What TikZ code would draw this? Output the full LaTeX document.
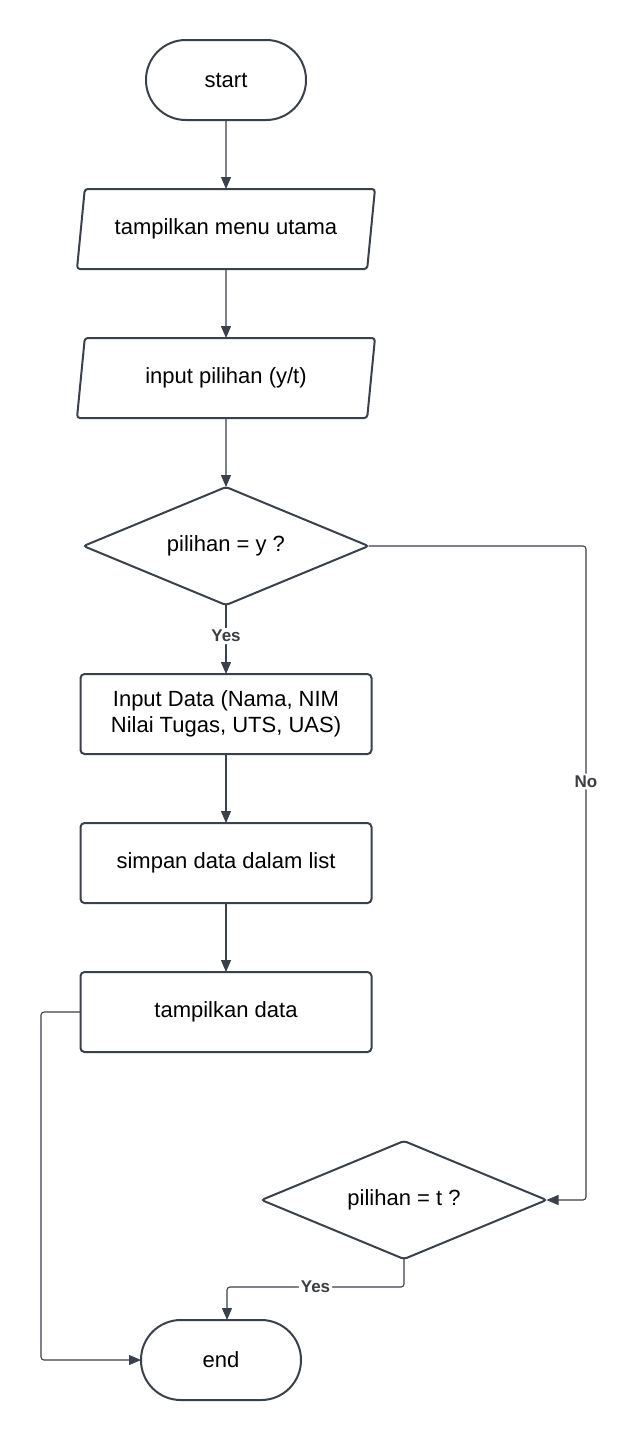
\documentclass[tikz,border=0pt]{standalone}
\usepackage{fontspec}
\setmainfont{Liberation Sans}
\usepackage{tikz}
\usetikzlibrary{arrows.meta, shapes.geometric, positioning}
\definecolor{colorLine}{RGB}{58,65,74}
\definecolor{colorLabel}{RGB}{60,62,66}
\tikzset{
  terminal/.style={draw=colorLine, line width=1pt, rectangle, rounded corners=19.9pt, minimum width=80pt, minimum height=40pt, outer sep=0pt},
  io/.style={draw=colorLine, line width=1pt, trapezium, trapezium left angle=77, trapezium right angle=103, trapezium stretches body, rounded corners=1.5pt, minimum width=149pt, minimum height=40pt, outer sep=0pt},
  process/.style={draw=colorLine, line width=1pt, rectangle, rounded corners=2pt, minimum width=145.5pt, minimum height=40pt, align=center, outer sep=0pt},
  decision/.style={draw=colorLine, line width=1pt, diamond, shape aspect=2.4, rounded corners=1.5pt, minimum width=142.5pt, minimum height=59pt, outer sep=0pt},
  lbl/.style={fill=white, font=\fontsize{8.5}{10}\selectfont\bfseries, text=colorLabel, inner sep=1pt},
  conn/.style={draw=colorLine, line width=0.55pt, rounded corners=1.5pt, ->}
}

\begin{document}
\begin{tikzpicture}[x=0.5pt, y=-0.5pt, >={Triangle[length=6pt, width=5pt]}, node distance=34.5pt, font=\fontsize{11}{13}\selectfont]
\useasboundingbox (0,0) rectangle (638,1440);
% main column
\node[terminal] (start) at (226,80) {start};
\node[io, below=of start] (menu) {tampilkan menu utama};
\node[io, below=of menu] (pilih) {input pilihan (y/t)};
\node[decision, below=of pilih] (cekY) {pilihan = y ?};
\node[process, below=of cekY] (input) {Input Data (Nama, NIM\\Nilai Tugas, UTS, UAS)};
\node[process, below=of input] (simpan) {simpan data dalam list};
\node[process, below=of simpan] (tampil) {tampilkan data};
\node[decision] (cekT) at (404,1200) {pilihan = t ?};
\node[terminal] (stop) at (221,1360) {end};
% bends
\coordinate (noTop) at (586,546);
\coordinate (noBot) at (586,1200);
\coordinate (yesKnee) at (404,1287);
\coordinate (yesTurn) at (227,1287);
\coordinate (leftBot) at (41,1360);
% connectors
\draw[conn] (start) -- (menu);
\draw[conn] (menu) -- (pilih);
\draw[conn] (pilih) -- (cekY);
\draw[conn] (cekY) -- node[lbl, pos=0.45]{Yes} (input);
\draw[conn] (input) -- (simpan);
\draw[conn] (simpan) -- (tampil);
\draw[conn] (cekY.east) -- (noTop) -- node[lbl, pos=0.36]{No} (noBot) -- (cekT.east);
\draw[conn] (cekT.south) -- (yesKnee) -- node[lbl]{Yes} (yesTurn) -- (yesTurn |- stop.north);
\draw[conn] (tampil.west) -| (leftBot) -- (stop.west);
\end{tikzpicture}
\end{document}
